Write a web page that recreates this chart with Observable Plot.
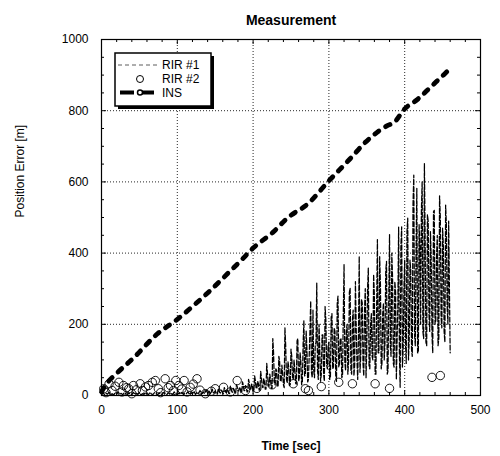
<!DOCTYPE html>
<html><head><meta charset="utf-8">
<script src="https://cdn.jsdelivr.net/npm/d3@7"></script>
<script src="https://cdn.jsdelivr.net/npm/@observablehq/plot@0.6"></script>
<style>body{margin:0;background:#fff} svg{font-family:"Liberation Sans",Arial,sans-serif}</style>
</head><body><div id="chart"></div>
<script>
const title = "Measurement";
const xLabel = "Time [sec]";
const yLabel = "Position Error [m]";
const xTicks = [0, 100, 200, 300, 400, 500];
const yTicks = [0, 200, 400, 600, 800, 1000];
const xMinorTicks = [20,40,60,80,120,140,160,180,220,240,260,280,320,340,360,380,420,440,460,480];
const yMinorTicks = [50,100,150,250,300,350,450,500,550,650,700,750,850,900,950];
const seriesNames = ["RIR #1", "RIR #2", "INS"];

// RIR #1: samples at even seconds from t = 0
const rir1Step = 2;
const rir1Error = [
  3,8,2,6,4,9,3,5,2,7,
  4,10,3,6,2,8,5,3,7,4,
  2,9,4,6,3,8,2,5,7,3,
  6,2,9,4,3,8,5,2,7,4,
  3,9,5,2,8,4,6,3,10,5,
  2,7,4,9,3,6,5,11,3,8,
  4,12,3,9,6,14,4,10,5,16,
  6,12,4,18,7,13,5,20,8,15,
  6,22,9,17,5,26,10,20,7,30,
  12,24,8,38,14,28,10,45,16,32,
  12,55,20,40,15,68,24,48,18,90,
  28,60,20,160,35,75,25,110,40,85,
  30,190,45,95,28,130,50,100,35,153,
  40,120,30,145,55,181,38,110,265,50,
  70,140,316,45,125,60,170,40,210,75,
  150,50,230,80,180,40,279,90,160,55,
  368,70,200,95,302,60,240,85,190,45,
  391,110,260,55,300,140,358,75,230,100,
  280,60,438,120,310,90,260,150,377,70,
  452,110,330,80,290,160,473,23,474,130,
  380,90,498,160,350,110,619,140,582,120,
  420,516,180,651,150,508,230,460,170,516,
  200,390,140,561,220,470,180,535,250,490,
  120
];
// RIR #1: intermediate samples at odd seconds from t = 151
const rir1OddStart = 151;
const rir1OddError = [
  9,4,15,7,12,5,18,8,14,6,
  20,9,16,7,25,12,19,8,30,14,
  22,10,35,16,28,12,42,20,33,15,
  50,22,38,18,62,26,45,20,120,30,
  70,28,95,40,60,22,140,35,80,30,
  110,45,75,32,160,50,95,38,210,60,
  130,45,180,65,240,50,150,70,200,40,
  170,60,250,85,140,45,220,75,190,55,
  260,80,160,50,230,95,180,60,290,70,
  210,55,320,100,170,65,270,90,240,50,
  300,80,200,110,340,60,250,120,390,75,
  230,100,350,60,280,140,400,90,320,45,
  260,120,420,80,300,150,460,100,380,130,
  540,170,400,120,480,200,600,160,430,140,
  490,180,380,120,520,210,450,160,500,190,
  420,150,480,200,300
];

// RIR #2 scattered fixes
const rir2Time  = [3,6,10,14,18,23,27,29,33,36,40,42,46,51,54,58,62,67,71,75,78,84,88,91,95,98,102,106,109,113,117,121,126,130,137,145,150,161,170,179,190,205,225,253,269,273,290,313,331,361,380,436,447];
const rir2Error = [19,8,33,14,26,37,10,28,22,19,5,28,16,33,14,24,28,37,42,19,8,47,22,28,14,42,28,18,42,10,23,32,47,15,5,12,19,23,10,42,14,20,30,33,19,14,25,37,33,33,20,51,56];

// INS drift
const insTime  = [0,5,20,43,73,100,120,140,170,183,200,227,245,273,300,328,346,364,377,386,400,417,434,456];
const insError = [10,28,62,107,172,214,250,288,350,377,414,460,498,540,603,665,707,740,758,767,805,832,866,910];

const rir1 = rir1Error.map((e, i) => ({t: i * rir1Step, e}))
  .concat(rir1OddError.map((e, i) => ({t: rir1OddStart + i * rir1Step, e})))
  .sort((a, b) => a.t - b.t);
const rir2 = rir2Time.map((t, i) => ({t, e: rir2Error[i]}));
const ins = insTime.map((t, i) => ({t, e: insError[i]}));

const W = 500, H = 456, mT = 39, mR = 20, mB = 61, mL = 101;
const plotH = H - mT - mB, plotW = W - mL - mR;
const tickLen = 5, minorLen = 3;

function legend(index, scales, values, dims) {
  const g = d3.create("svg:g");
  const x0 = dims.marginLeft + 14, y0 = dims.marginTop + 14, w = 96, h = 53;
  g.append("rect").attr("x", x0 + 3).attr("y", y0 + 3).attr("width", w).attr("height", h).attr("fill", "#000");
  g.append("rect").attr("x", x0).attr("y", y0).attr("width", w).attr("height", h)
    .attr("fill", "#fff").attr("stroke", "#000").attr("stroke-width", 1.5);
  const rows = [12, 26, 39.5];
  g.append("line").attr("x1", x0 + 3).attr("x2", x0 + 44).attr("y1", y0 + rows[0]).attr("y2", y0 + rows[0])
    .attr("stroke", "#333").attr("stroke-width", 0.8).attr("stroke-dasharray", "4,3");
  g.append("circle").attr("cx", x0 + 25).attr("cy", y0 + rows[1]).attr("r", 3.5)
    .attr("fill", "none").attr("stroke", "#000");
  g.append("line").attr("x1", x0 + 5).attr("x2", x0 + 44).attr("y1", y0 + rows[2]).attr("y2", y0 + rows[2])
    .attr("stroke", "#000").attr("stroke-width", 4).attr("stroke-dasharray", "14,6");
  g.append("circle").attr("cx", x0 + 25).attr("cy", y0 + rows[2]).attr("r", 2.5)
    .attr("fill", "#fff").attr("stroke", "#000").attr("stroke-width", 1.5);
  seriesNames.forEach((name, i) => {
    g.append("text").attr("x", x0 + 47).attr("y", y0 + rows[i]).attr("dy", "0.35em")
      .attr("text-anchor", "start").attr("font-size", 12).attr("fill", "#000").text(name);
  });
  return g.node();
}

const chart = Plot.plot({
  width: W, height: H,
  marginTop: mT, marginRight: mR, marginBottom: mB, marginLeft: mL,
  style: {fontFamily: "'Liberation Sans', Arial, sans-serif", fontSize: "12px", background: "#fff", color: "#000"},
  x: {domain: [0, 500]},
  y: {domain: [0, 1000]},
  marks: [
    Plot.gridX(xTicks.slice(1, -1), {stroke: "#000", strokeOpacity: 0.85, strokeDasharray: "1,2"}),
    Plot.gridY(yTicks.slice(1, -1), {stroke: "#000", strokeOpacity: 0.85, strokeDasharray: "1,2"}),
    Plot.ruleX(xTicks, {x: d => d, insetTop: plotH - tickLen, stroke: "#000"}),
    Plot.ruleX(xTicks, {x: d => d, insetBottom: plotH - tickLen, stroke: "#000"}),
    Plot.ruleX(xMinorTicks, {x: d => d, insetTop: plotH - minorLen, stroke: "#000"}),
    Plot.ruleX(xMinorTicks, {x: d => d, insetBottom: plotH - minorLen, stroke: "#000"}),
    Plot.ruleY(yTicks, {y: d => d, insetRight: plotW - tickLen, stroke: "#000"}),
    Plot.ruleY(yTicks, {y: d => d, insetLeft: plotW - tickLen, stroke: "#000"}),
    Plot.ruleY(yMinorTicks, {y: d => d, insetRight: plotW - minorLen, stroke: "#000"}),
    Plot.ruleY(yMinorTicks, {y: d => d, insetLeft: plotW - minorLen, stroke: "#000"}),
    Plot.axisX({ticks: xTicks, tickSize: 0, tickPadding: 10, tickFormat: d => String(d), label: null, fontSize: 12}),
    Plot.axisY({ticks: yTicks, tickSize: 0, tickPadding: 13, tickFormat: d => String(d), label: null, fontSize: 12}),
    Plot.line(rir1, {x: "t", y: "e", stroke: "#000", strokeWidth: 1.25, strokeDasharray: "5,2"}),
    Plot.dot(rir2, {x: "t", y: "e", r: 4.2, stroke: "#000", strokeWidth: 0.9, fill: "none"}),
    Plot.line(ins, {x: "t", y: "e", stroke: "#000", strokeWidth: 4.8, strokeDasharray: "5,8", strokeLinecap: "round", curve: "monotone-x"}),
    Plot.frame({stroke: "#000", strokeWidth: 1.2}),
    legend,
    Plot.text([title], {frameAnchor: "top", dy: -24, fontSize: 14, fontWeight: "bold", fill: "#000"}),
    Plot.text([xLabel], {frameAnchor: "bottom", dy: 54, fontSize: 12, fontWeight: "bold", fill: "#000"}),
    Plot.text([yLabel], {frameAnchor: "left", dx: -81, rotate: -90, fontSize: 12, fill: "#000"})
  ]
});
document.getElementById("chart").appendChild(chart);
</script>
</body></html>
